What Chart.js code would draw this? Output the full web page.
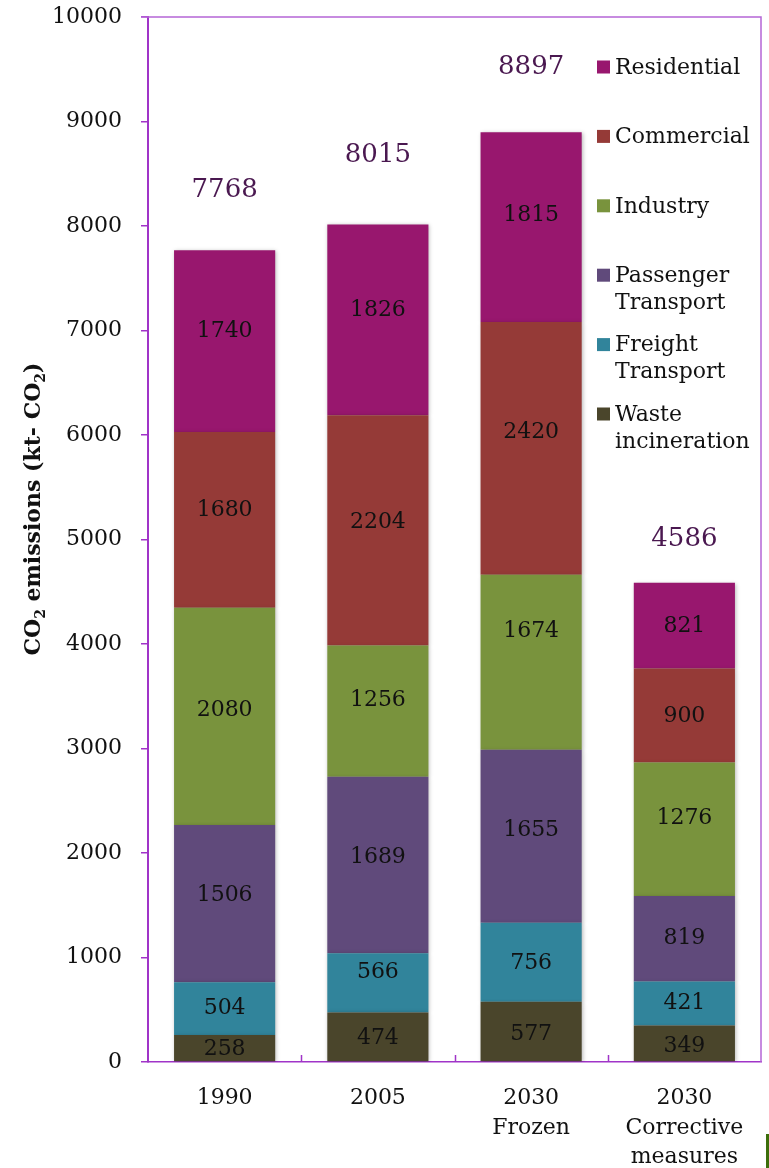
<!DOCTYPE html>
<html><head><meta charset="utf-8">
<script src="https://cdn.jsdelivr.net/npm/chart.js@4.4.1/dist/chart.umd.min.js"></script>
<style>html,body{margin:0;padding:0;background:#fff;} canvas{display:block;}</style>
</head><body>
<canvas id="c" width="769" height="1168"></canvas>
<script>
// ---- data ----
const categories = [['1990'], ['2005'], ['2030', 'Frozen'], ['2030', 'Corrective', 'measures']];
const seriesNames = ['Waste incineration', 'Freight Transport', 'Passenger Transport', 'Industry', 'Commercial', 'Residential'];
const waste = [258, 474, 577, 349];
const freight = [504, 566, 756, 421];
const passenger = [1506, 1689, 1655, 819];
const industry = [2080, 1256, 1674, 1276];
const commercial = [1680, 2204, 2420, 900];
const residential = [1740, 1826, 1815, 821];
const totals = [7768, 8015, 8897, 4586];
const yMin = 0, yMax = 10000, yStep = 1000;

// ---- styles ----
const colors = ['#4A452B', '#31849B', '#604A7B', '#79933D', '#953A37', '#98176E'];
const totalLabelOffsets = [60, 69, 65, 44];
// upward nudges (px) of value labels, as placed in the original (per series, per category)
const labelNudges = [
  [0, 0, -2, -2],
  [1, 12, 0, 1],
  [9, 9, 7, 1],
  [7, 12, 32, 12],
  [11, 9, 17, 0],
  [11, 11, 13, 0]
];
const FONT = "'DejaVu Serif', serif";
const axisPurple = '#A034C8';
const framePurple = '#B566D6';

const seriesValues = [waste, freight, passenger, industry, commercial, residential];

const labelPlugin = {
  id: 'labels',
  beforeDatasetsDraw(chart) {
    const ctx = chart.ctx;
    ctx.save();
    ctx.shadowColor = 'rgba(0,0,0,0.28)';
    ctx.shadowBlur = 4;
    ctx.shadowOffsetX = 1;
    ctx.shadowOffsetY = 1;
  },
  afterDatasetsDraw(chart) {
    const ctx = chart.ctx;
    ctx.restore();
    ctx.save();
    ctx.textAlign = 'center';
    ctx.textBaseline = 'middle';
    ctx.font = '22px ' + FONT;
    ctx.fillStyle = '#111';
    chart.data.datasets.forEach((ds, di) => {
      const meta = chart.getDatasetMeta(di);
      meta.data.forEach((el, i) => {
        ctx.fillText(String(ds.data[i]), el.x, (el.y + el.base) / 2 + 1 - labelNudges[di][i]);
      });
    });
    // totals
    const topMeta = chart.getDatasetMeta(chart.data.datasets.length - 1);
    ctx.font = '26px ' + FONT;
    ctx.fillStyle = '#4A1850';
    topMeta.data.forEach((el, i) => {
      ctx.fillText(String(totals[i]), el.x, el.y - totalLabelOffsets[i]);
    });
    ctx.restore();
  },
  afterDraw(chart) {
    const ctx = chart.ctx;
    const a = chart.chartArea;
    ctx.save();
    // frame top and right
    ctx.strokeStyle = framePurple;
    ctx.lineWidth = 1.5;
    ctx.beginPath();
    ctx.moveTo(a.left - 7, a.top);
    ctx.lineTo(a.right, a.top);
    ctx.lineTo(a.right, a.bottom);
    ctx.stroke();
    // inward category ticks on x axis
    ctx.strokeStyle = axisPurple;
    const n = chart.data.labels.length;
    const w = (a.right - a.left) / n;
    ctx.beginPath();
    for (let i = 1; i < n; i++) {
      const x = Math.round(a.left + i * w) + 0.5;
      ctx.moveTo(x, a.bottom - 7);
      ctx.lineTo(x, a.bottom);
    }
    ctx.stroke();
    // y-axis title with subscripts
    const parts = [['CO', 0], ['2', 1], [' emissions (kt- CO', 0], ['2', 1], [')', 0]];
    const big = 'bold 22px ' + FONT, small = 'bold 14px ' + FONT;
    let total = 0;
    parts.forEach(p => { ctx.font = p[1] ? small : big; total += ctx.measureText(p[0]).width; });
    ctx.translate(33, 509);
    ctx.rotate(-Math.PI / 2);
    ctx.fillStyle = '#111';
    ctx.textBaseline = 'alphabetic';
    ctx.textAlign = 'left';
    let x = -total / 2;
    parts.forEach(p => {
      ctx.font = p[1] ? small : big;
      ctx.fillText(p[0], x, p[1] ? 12 : 7);
      x += ctx.measureText(p[0]).width;
    });
    ctx.setTransform(1, 0, 0, 1, 0, 0);
    // legend
    ctx.textAlign = 'left';
    ctx.textBaseline = 'middle';
    ctx.font = '22px ' + FONT;
    const dsets = chart.data.datasets;
    let y = 67;
    for (let i = dsets.length - 1; i >= 0; i--) {
      ctx.fillStyle = dsets[i].backgroundColor;
      ctx.fillRect(597, y - 6.5, 13, 13);
      ctx.fillStyle = '#111';
      const lines = dsets[i].label.split(' ');
      lines.forEach((ln, k) => ctx.fillText(ln, 615, y + 1 + k * 27));
      y += 69.4;
    }
    // small green mark at bottom right
    ctx.fillStyle = '#3C6E0A';
    ctx.fillRect(766, 1134, 3, 34);
    ctx.restore();
  }
};

new Chart(document.getElementById('c'), {
  type: 'bar',
  data: {
    labels: categories,
    datasets: seriesValues.map((vals, i) => ({
      label: seriesNames[i],
      data: vals,
      backgroundColor: colors[i],
      borderWidth: 0,
      categoryPercentage: 1,
      barPercentage: 0.66
    }))
  },
  options: {
    responsive: false,
    animation: false,
    devicePixelRatio: 1,
    layout: { padding: { top: 17, right: 8, left: 0, bottom: 0 } },
    plugins: { legend: { display: false }, tooltip: { enabled: false }, title: { display: false } },
    scales: {
      x: {
        stacked: true,
        grid: { drawOnChartArea: false, drawTicks: false },
        border: { color: axisPurple, width: 1.5 },
        ticks: { font: { family: FONT, size: 22, lineHeight: 1.34 }, color: '#111', padding: 22, maxRotation: 0, autoSkip: false },
        afterFit(s) { s.height = 106; s.paddingLeft = 0; s.paddingRight = 0; }
      },
      y: {
        stacked: true,
        min: yMin, max: yMax,
        grid: { drawOnChartArea: false, drawTicks: true, tickLength: 7, color: axisPurple, lineWidth: 1.5 },
        border: { color: axisPurple, width: 2 },
        ticks: { stepSize: yStep, font: { family: FONT, size: 22 }, color: '#111', padding: 19, callback: v => String(v) },
        afterFit(s) { s.width = 148; s.paddingTop = 0; s.paddingBottom = 0; }
      }
    }
  },
  plugins: [labelPlugin]
});
</script></body></html>
